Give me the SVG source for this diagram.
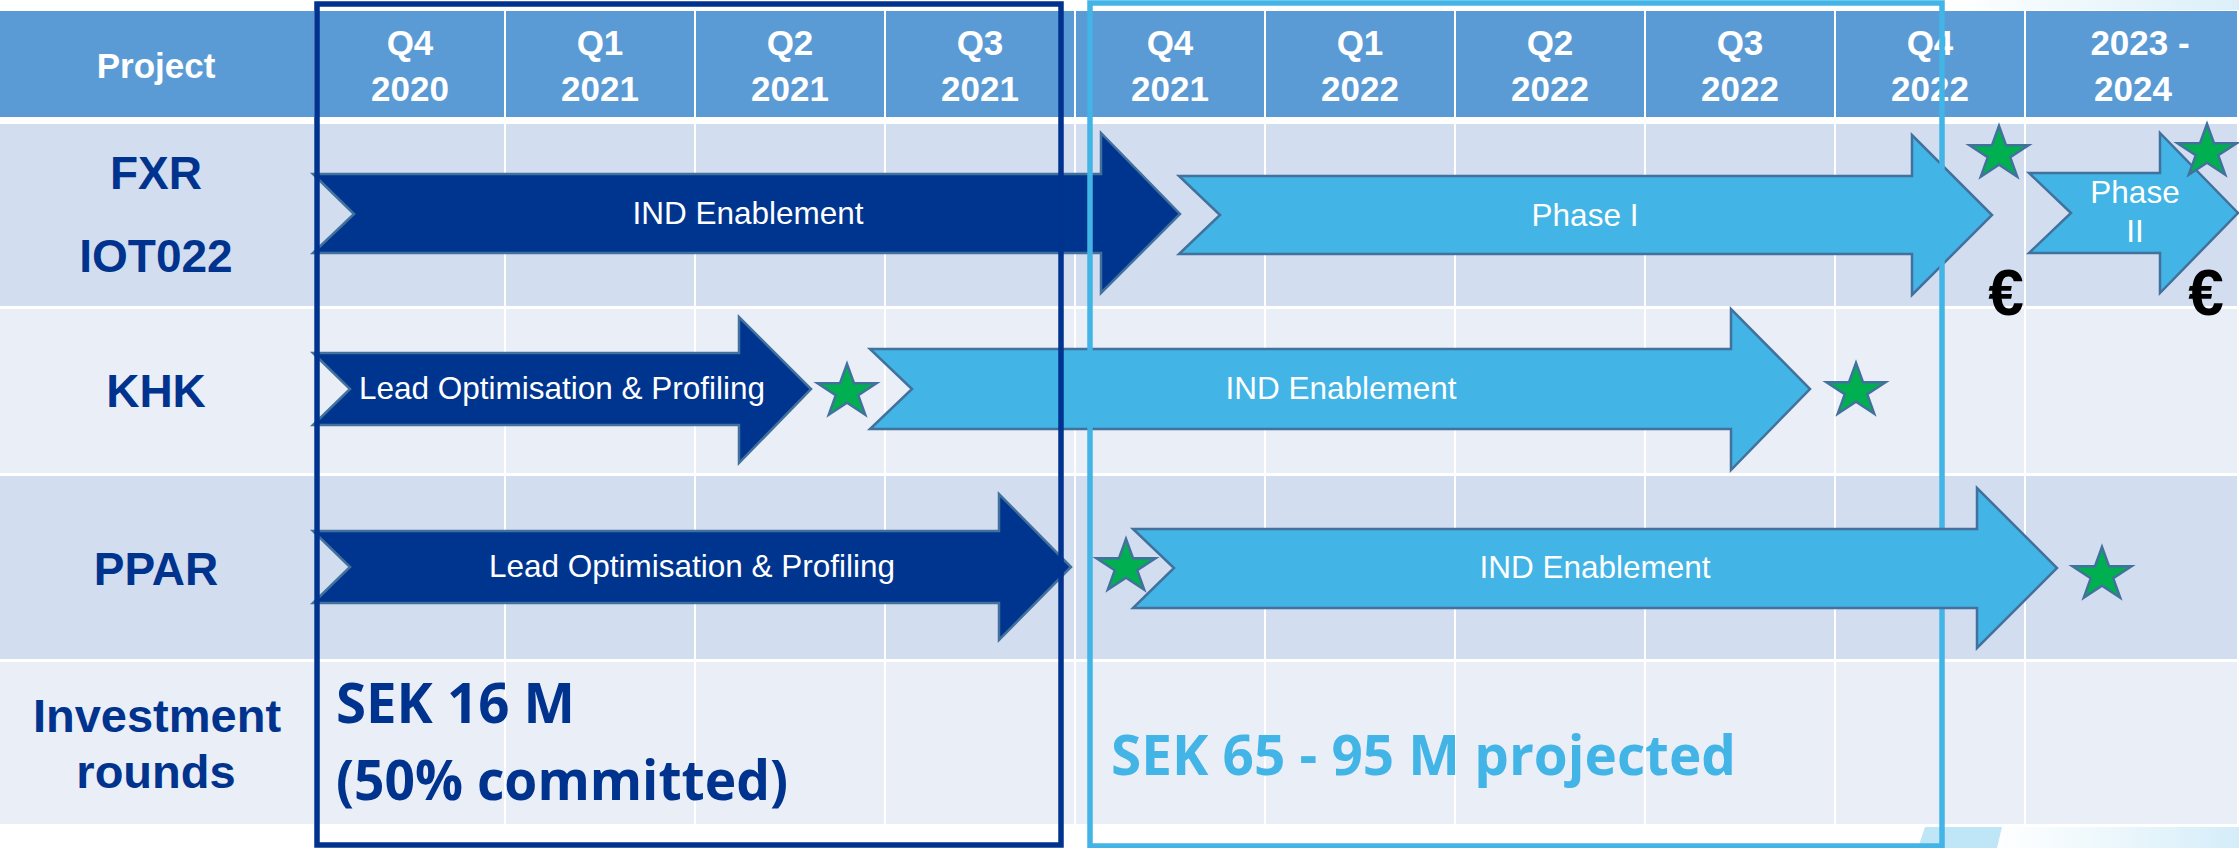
<svg xmlns="http://www.w3.org/2000/svg" width="2239" height="848" viewBox="0 0 2239 848">
  <style>
    .hdr { fill: #5B9BD5; }
    .rowA { fill: #D2DEEF; }
    .rowB { fill: #E9EEF7; }
    .hdrTxt { font-family: "Liberation Sans", Arial, sans-serif; font-weight: bold; font-size: 35px; fill: #FFFFFF; text-anchor: middle; }
    .rowLbl { font-family: "Liberation Sans", Arial, sans-serif; font-weight: bold; font-size: 46px; fill: #00338E; text-anchor: middle; }
    .invLbl { font-family: "Liberation Sans", Arial, sans-serif; font-weight: bold; font-size: 47px; fill: #00338E; text-anchor: middle; }
    .dark { fill: #00358F; stroke: #41719C; stroke-width: 2.5; stroke-linejoin: miter; }
    .light { fill: #42B4E5; stroke: #41719C; stroke-width: 2.5; stroke-linejoin: miter; }
    .arrTxt { font-family: "Liberation Sans", Arial, sans-serif; font-size: 31.5px; fill: #FFFFFF; text-anchor: middle; }
    .star { fill: #00B050; stroke: #41719C; stroke-width: 2.5; stroke-linejoin: miter; }
    .euro { font-family: "Liberation Sans", Arial, sans-serif; font-weight: bold; font-size: 64px; fill: #000000; text-anchor: middle; }
    .money { font-family: "Open Sans", "Liberation Sans", sans-serif; font-weight: bold; font-size: 55px; }
  </style>
  <defs>
    <polygon id="starShape" points="0,-28 7,-8.7 29.5,-8.7 11.3,3.3 18.2,22.7 0,10.7 -18.2,22.7 -11.3,3.3 -29.5,-8.7 -7,-8.7"/>
    <linearGradient id="fadeBottom" x1="0" y1="0" x2="1" y2="0">
      <stop offset="0" stop-color="#FFFFFF"/>
      <stop offset="0.45" stop-color="#EEF8FC"/>
      <stop offset="1" stop-color="#D4EDF9"/>
    </linearGradient>
    <linearGradient id="fadeTop" x1="0" y1="0" x2="1" y2="0">
      <stop offset="0" stop-color="#FFFFFF"/>
      <stop offset="1" stop-color="#DCEFF8"/>
    </linearGradient>
  </defs>

  <rect width="2239" height="848" fill="#FFFFFF"/>

  <!-- corner decorations -->
  <rect x="1945" y="0" width="294" height="10" fill="url(#fadeTop)"/>
  <rect x="1990" y="827" width="249" height="21" fill="url(#fadeBottom)"/>
  <polygon points="1925,827 2002,827 1997,848 1918,848" fill="#BEE6F6"/>

  <!-- table grid -->
  <g id="grid">
    <g id="header-row">
      <rect class="hdr" x="0" y="11" width="314" height="106"/>
      <rect class="hdr" x="316" y="11" width="188" height="106"/>
      <rect class="hdr" x="506" y="11" width="188" height="106"/>
      <rect class="hdr" x="696" y="11" width="188" height="106"/>
      <rect class="hdr" x="886" y="11" width="188" height="106"/>
      <rect class="hdr" x="1076" y="11" width="188" height="106"/>
      <rect class="hdr" x="1266" y="11" width="188" height="106"/>
      <rect class="hdr" x="1456" y="11" width="188" height="106"/>
      <rect class="hdr" x="1646" y="11" width="188" height="106"/>
      <rect class="hdr" x="1836" y="11" width="188" height="106"/>
      <rect class="hdr" x="2026" y="11" width="211" height="106"/>
    </g>
    <g id="row-bands">
      <!-- FXR / IOT022 -->
      <rect class="rowA" x="0" y="124" width="314" height="182"/>
      <rect class="rowA" x="316" y="124" width="188" height="182"/>
      <rect class="rowA" x="506" y="124" width="188" height="182"/>
      <rect class="rowA" x="696" y="124" width="188" height="182"/>
      <rect class="rowA" x="886" y="124" width="188" height="182"/>
      <rect class="rowA" x="1076" y="124" width="188" height="182"/>
      <rect class="rowA" x="1266" y="124" width="188" height="182"/>
      <rect class="rowA" x="1456" y="124" width="188" height="182"/>
      <rect class="rowA" x="1646" y="124" width="188" height="182"/>
      <rect class="rowA" x="1836" y="124" width="188" height="182"/>
      <rect class="rowA" x="2026" y="124" width="211" height="182"/>
      <!-- KHK -->
      <rect class="rowB" x="0" y="309" width="314" height="164"/>
      <rect class="rowB" x="316" y="309" width="188" height="164"/>
      <rect class="rowB" x="506" y="309" width="188" height="164"/>
      <rect class="rowB" x="696" y="309" width="188" height="164"/>
      <rect class="rowB" x="886" y="309" width="188" height="164"/>
      <rect class="rowB" x="1076" y="309" width="188" height="164"/>
      <rect class="rowB" x="1266" y="309" width="188" height="164"/>
      <rect class="rowB" x="1456" y="309" width="188" height="164"/>
      <rect class="rowB" x="1646" y="309" width="188" height="164"/>
      <rect class="rowB" x="1836" y="309" width="188" height="164"/>
      <rect class="rowB" x="2026" y="309" width="211" height="164"/>
      <!-- PPAR -->
      <rect class="rowA" x="0" y="476" width="314" height="183"/>
      <rect class="rowA" x="316" y="476" width="188" height="183"/>
      <rect class="rowA" x="506" y="476" width="188" height="183"/>
      <rect class="rowA" x="696" y="476" width="188" height="183"/>
      <rect class="rowA" x="886" y="476" width="188" height="183"/>
      <rect class="rowA" x="1076" y="476" width="188" height="183"/>
      <rect class="rowA" x="1266" y="476" width="188" height="183"/>
      <rect class="rowA" x="1456" y="476" width="188" height="183"/>
      <rect class="rowA" x="1646" y="476" width="188" height="183"/>
      <rect class="rowA" x="1836" y="476" width="188" height="183"/>
      <rect class="rowA" x="2026" y="476" width="211" height="183"/>
      <!-- Investment rounds -->
      <rect class="rowB" x="0" y="662" width="314" height="162"/>
      <rect class="rowB" x="316" y="662" width="188" height="162"/>
      <rect class="rowB" x="506" y="662" width="188" height="162"/>
      <rect class="rowB" x="696" y="662" width="188" height="162"/>
      <rect class="rowB" x="886" y="662" width="188" height="162"/>
      <rect class="rowB" x="1076" y="662" width="188" height="162"/>
      <rect class="rowB" x="1266" y="662" width="188" height="162"/>
      <rect class="rowB" x="1456" y="662" width="188" height="162"/>
      <rect class="rowB" x="1646" y="662" width="188" height="162"/>
      <rect class="rowB" x="1836" y="662" width="188" height="162"/>
      <rect class="rowB" x="2026" y="662" width="211" height="162"/>
    </g>
  </g>

  <!-- column headings -->
  <g id="headings">
    <text class="hdrTxt" x="156" y="78" font-size="34">Project</text>
    <text class="hdrTxt" x="410" y="55">Q4</text><text class="hdrTxt" x="410" y="101">2020</text>
    <text class="hdrTxt" x="600" y="55">Q1</text><text class="hdrTxt" x="600" y="101">2021</text>
    <text class="hdrTxt" x="790" y="55">Q2</text><text class="hdrTxt" x="790" y="101">2021</text>
    <text class="hdrTxt" x="980" y="55">Q3</text><text class="hdrTxt" x="980" y="101">2021</text>
    <text class="hdrTxt" x="1170" y="55">Q4</text><text class="hdrTxt" x="1170" y="101">2021</text>
    <text class="hdrTxt" x="1360" y="55">Q1</text><text class="hdrTxt" x="1360" y="101">2022</text>
    <text class="hdrTxt" x="1550" y="55">Q2</text><text class="hdrTxt" x="1550" y="101">2022</text>
    <text class="hdrTxt" x="1740" y="55">Q3</text><text class="hdrTxt" x="1740" y="101">2022</text>
    <text class="hdrTxt" x="1930" y="55">Q4</text><text class="hdrTxt" x="1930" y="101">2022</text>
    <text class="hdrTxt" x="2140" y="55">2023 -</text><text class="hdrTxt" x="2133" y="101">2024</text>
  </g>

  <!-- project labels -->
  <g id="project-labels">
    <g id="label-fxr"><text class="rowLbl" x="156" y="189">FXR</text><text class="rowLbl" x="156" y="272">IOT022</text></g>
    <g id="label-khk"><text class="rowLbl" x="156" y="407">KHK</text></g>
    <g id="label-ppar"><text class="rowLbl" x="156" y="585">PPAR</text></g>
    <g id="label-investment"><text class="invLbl" x="157" y="732">Investment</text><text class="invLbl" x="156" y="788">rounds</text></g>
  </g>

  <!-- FXR / IOT022 timeline -->
  <g id="fxr-ind">
    <path class="dark" d="M313,174 L1101,174 L1101,133 L1180,214 L1101,293 L1101,253 L313,253 L354,214 Z"/>
    <text class="arrTxt" x="748" y="224">IND Enablement</text>
  </g>
  <g id="fxr-phase1">
    <path class="light" d="M1179,176 L1912,176 L1912,135 L1992,215 L1912,295 L1912,254 L1179,254 L1220,215 Z"/>
    <text class="arrTxt" x="1585" y="226">Phase I</text>
  </g>
  <g id="fxr-phase2">
    <path class="light" d="M2029,173 L2160,173 L2160,133 L2238,213 L2160,293 L2160,253 L2029,253 L2071,213 Z"/>
    <text class="arrTxt" x="2135" y="203">Phase</text>
    <text class="arrTxt" x="2135" y="242">II</text>
  </g>
  <g id="fxr-milestones">
    <use href="#starShape" class="star" x="1999" y="154"/>
    <use href="#starShape" class="star" x="2207" y="152"/>
    <text class="euro" x="2006" y="315">€</text>
    <text class="euro" x="2206" y="315">€</text>
  </g>

  <!-- KHK timeline -->
  <g id="khk-lead">
    <path class="dark" d="M313,353 L739,353 L739,317 L811,389 L739,463 L739,425 L313,425 L350,389 Z"/>
    <text class="arrTxt" x="562" y="399">Lead Optimisation &amp; Profiling</text>
  </g>
  <g id="khk-ind">
    <path class="light" d="M870,349 L1731,349 L1731,309 L1810,389 L1731,470 L1731,429 L870,429 L912,389 Z"/>
    <text class="arrTxt" x="1341" y="399">IND Enablement</text>
  </g>
  <g id="khk-milestones">
    <use href="#starShape" class="star" x="847" y="392"/>
    <use href="#starShape" class="star" x="1856" y="391"/>
  </g>

  <!-- PPAR timeline (lead phase) -->
  <g id="ppar-lead">
    <path class="dark" d="M313,531 L999,531 L999,494 L1071,567 L999,640 L999,603 L313,603 L350,567 Z"/>
    <text class="arrTxt" x="692" y="577">Lead Optimisation &amp; Profiling</text>
  </g>

  <!-- funding windows -->
  <g id="funding-committed">
    <rect x="317" y="4" width="744" height="841" fill="none" stroke="#00338E" stroke-width="5.5"/>
    <text class="money" x="336" y="723" fill="#00338E" textLength="239" lengthAdjust="spacingAndGlyphs">SEK 16 M</text>
    <text class="money" x="336" y="800" fill="#00338E" textLength="452" lengthAdjust="spacingAndGlyphs">(50% committed)</text>
  </g>
  <g id="funding-projected">
    <rect x="1090" y="3" width="852" height="843" fill="none" stroke="#42B4E5" stroke-width="5.5"/>
    <text class="money" x="1111" y="775" fill="#42B4E5" textLength="625" lengthAdjust="spacingAndGlyphs">SEK 65 - 95 M projected</text>
  </g>

  <!-- PPAR timeline (IND phase) -->
  <g id="ppar-ind">
    <path class="light" d="M1133,529 L1977,529 L1977,488 L2057,568 L1977,648 L1977,608 L1133,608 L1174,568 Z"/>
    <text class="arrTxt" x="1595" y="578">IND Enablement</text>
  </g>
  <g id="ppar-milestones">
    <use href="#starShape" class="star" x="1126" y="567"/>
    <use href="#starShape" class="star" x="2102" y="575"/>
  </g>
</svg>
